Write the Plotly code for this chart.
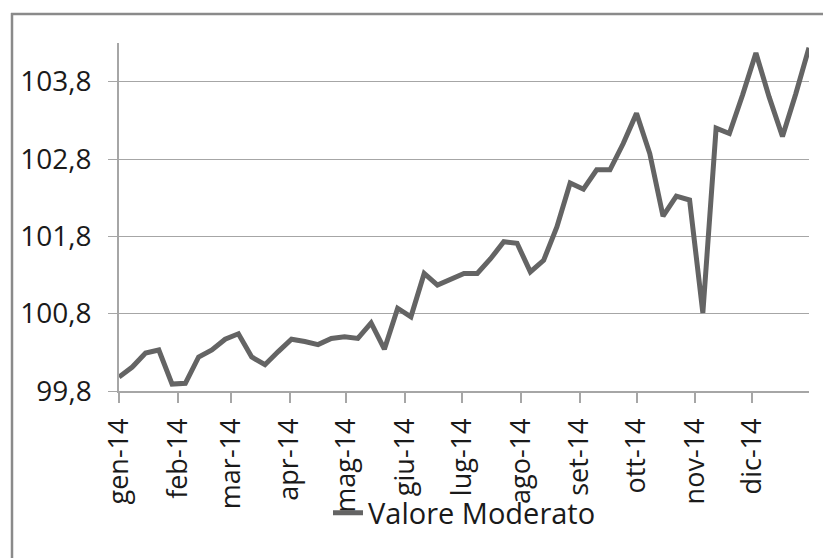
import plotly.graph_objects as go
import pandas as pd

# Weekly observations, 2014
start_date = "2014-01-01"
n_weeks = 53
valore_moderato = [
    99.98, 100.11, 100.29, 100.33, 99.89, 99.90, 100.24, 100.33, 100.47, 100.54,
    100.24, 100.14, 100.31, 100.47, 100.44, 100.40, 100.48, 100.50, 100.48, 100.68,
    100.34, 100.87, 100.76, 101.32, 101.17, 101.25, 101.32, 101.32, 101.51, 101.73,
    101.71, 101.34, 101.49, 101.92, 102.49, 102.41, 102.66, 102.66, 103.00, 103.39,
    102.87, 102.06, 102.32, 102.27, 100.81, 103.20, 103.13, 103.63, 104.17, 103.60,
    103.09, 103.64, 104.24,
]
month_ticks = ["2014-01-01", "2014-02-01", "2014-03-01", "2014-04-01", "2014-05-01",
               "2014-06-01", "2014-07-01", "2014-08-01", "2014-09-01", "2014-10-01",
               "2014-11-01", "2014-12-01"]
month_labels = ["gen-14", "feb-14", "mar-14", "apr-14", "mag-14", "giu-14",
                "lug-14", "ago-14", "set-14", "ott-14", "nov-14", "dic-14"]
y_ticks = [99.8, 100.8, 101.8, 102.8, 103.8]
series_name = "Valore Moderato"

dates = pd.date_range(start_date, periods=n_weeks, freq="7D")

OFF = 8  # page body margin
W, H = 831, 558
L, R, T, B = 119 - OFF, 809 - OFF, 43 - OFF, 391 - OFF  # plot area in figure pixels

def px_x(p):
    return (p - OFF - L) / (R - L)

def px_y(p):
    return (B - (p - OFF)) / (B - T)

fig = go.Figure()
fig.add_trace(go.Scatter(
    x=dates, y=valore_moderato, mode="lines", name=series_name,
    line=dict(color="#646464", width=5),
))

axis_grey = "#a6a6a6"
font_fam = "Open Sans"
fig.update_layout(
    width=W, height=H,
    margin=dict(l=L, r=W - R, t=T, b=H - B),
    paper_bgcolor="white", plot_bgcolor="white",
    separators=",.",
    font=dict(family=font_fam, size=27, color="#1a1a1a"),
    showlegend=True,
    legend=dict(orientation="h", x=px_x(328), xanchor="left",
                y=px_y(513), yanchor="middle",
                font=dict(size=29, color="#1a1a1a"),
                bgcolor="rgba(0,0,0,0)", itemwidth=30),
    xaxis=dict(
        type="date", range=[dates[0], dates[-1]],
        tickvals=month_ticks, ticktext=month_labels, tickangle=-90,
        tickfont=dict(size=27),
        showgrid=False, showline=True, linecolor=axis_grey, linewidth=1.5,
        ticks="outside", ticklen=10, tickcolor=axis_grey, tickwidth=1.5,
        ticklabelstandoff=5, zeroline=False,
    ),
    yaxis=dict(
        range=[99.8, 104.3], tickvals=y_ticks, tickformat=".1f",
        tickfont=dict(size=28),
        showgrid=True, gridcolor=axis_grey, gridwidth=1.3,
        showline=True, linecolor=axis_grey, linewidth=1.5,
        ticks="outside", ticklen=9, tickcolor=axis_grey, tickwidth=1.3,
        ticklabelstandoff=11, zeroline=False,
    ),
    shapes=[
        dict(type="line", xref="paper", yref="paper",
             x0=px_x(12), x1=px_x(12), y0=px_y(13), y1=px_y(580),
             line=dict(color="#8a8a8a", width=2.5)),
        dict(type="line", xref="paper", yref="paper",
             x0=px_x(11), x1=px_x(850), y0=px_y(14), y1=px_y(14),
             line=dict(color="#8a8a8a", width=2.5)),
    ],
)

fig.write_html("out.html")
